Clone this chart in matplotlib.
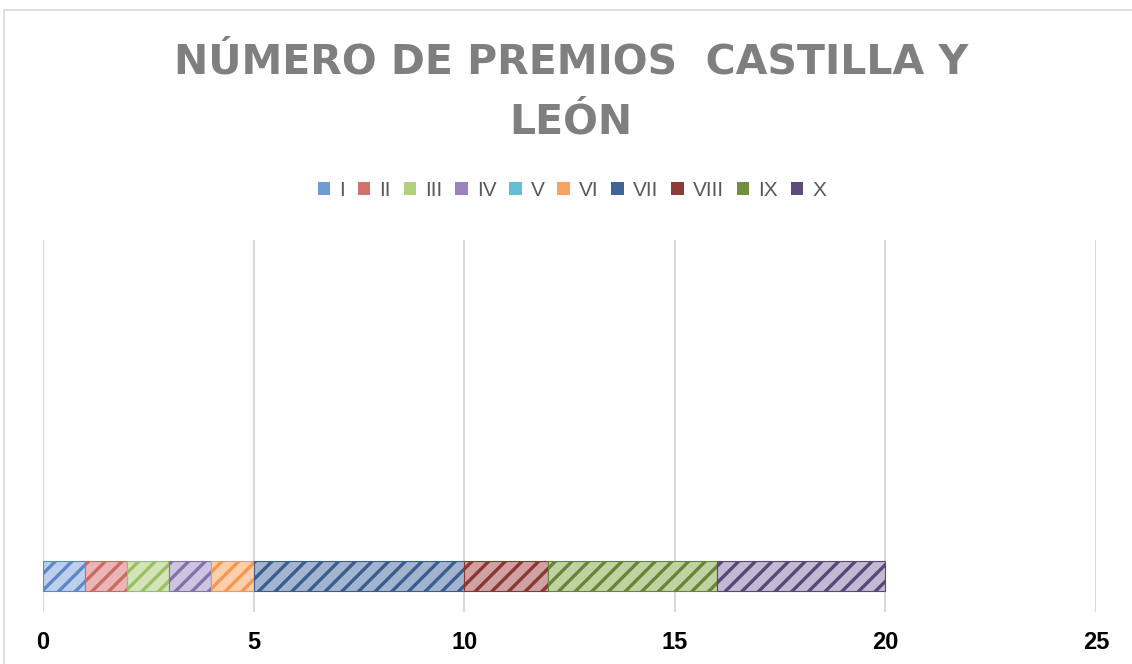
import matplotlib
matplotlib.use("Agg")
import matplotlib.pyplot as plt
from matplotlib.patches import Patch, Rectangle

# ---------------- data ----------------
categoria = ["Castilla y León"]
series = ["I", "II", "III", "IV", "V", "VI", "VII", "VIII", "IX", "X"]
premios = [1, 1, 1, 1, 0, 1, 5, 2, 4, 4]
xticks = [0, 5, 10, 15, 20, 25]
titulo = "NÚMERO DE PREMIOS  CASTILLA Y\nLEÓN"

# ---------------- style ----------------
face_colors = ["#bdd0eb", "#eab6b5", "#d3e4b8", "#cfc4e0", "#bce1ec", "#fbcfac",
               "#a3b5ce", "#cea2a1", "#c1d2a2", "#c2b9d3"]
hatch_colors = ["#5b88c8", "#c96a67", "#9bbf63", "#8771ad", "#4cb0ca", "#f49851",
                "#3a5d8c", "#883735", "#678539", "#594777"]
legend_colors = ["#6f9bd6", "#d36f6c", "#b1cf7c", "#9a82c0", "#63bfd6", "#f8a262",
                 "#3f6596", "#8d3b39", "#708f40", "#5e4b7b"]

W, H = 1132, 664
DPI = 100
plt.rcParams["hatch.linewidth"] = 2.4
plt.rcParams["font.family"] = ["Liberation Sans", "DejaVu Sans"]

fig = plt.figure(figsize=(W / DPI, H / DPI), dpi=DPI)
fig.patch.set_facecolor("white")

# outer light border (chart area)
fig.add_artist(Rectangle((4 / W, -0.05), 1.2, 1 - 10 / H + 0.05,
                         transform=fig.transFigure, fill=False,
                         edgecolor="#d9d9d9", linewidth=1.2))

ax = fig.add_axes([43 / W, 1 - 612 / H, (1096 - 43) / W, (612 - 240) / H])

left = 0
for s, v, fc, hc in zip(series, premios, face_colors, hatch_colors):
    ax.barh(categoria, [v], left=left, height=1.0, color=fc, edgecolor=hc,
            hatch="//", linewidth=0.8, label=s, zorder=3)
    left += v

ax.set_xlim(0, 25)
ax.set_ylim(-1.2, 11.2)
ax.set_xticks(xticks)
ax.set_xticklabels([str(t) for t in xticks], fontsize=17, fontweight="bold",
                   color="black")
ax.tick_params(axis="x", length=0, pad=14)
ax.set_yticks([])
for sp in ax.spines.values():
    sp.set_visible(False)
ax.grid(axis="x", color="#d9d9d9", linewidth=1.5, zorder=0)
ax.set_axisbelow(True)

# legend
handles = [Patch(facecolor=c, edgecolor=c, linewidth=0) for c in legend_colors]
fig.legend(handles, series, loc="center", bbox_to_anchor=(572 / W, 1 - 190 / H),
           ncol=10, frameon=False, fontsize=15, labelcolor="#595959",
           handlelength=0.6, handleheight=0.6, handletextpad=0.45,
           columnspacing=0.6, borderpad=0)

# title
fig.text(571 / W, 1 - 43 / H, titulo, ha="center", va="top", multialignment="center",
         fontsize=29.5, fontweight="bold", color="#7f7f7f",
         family=["DejaVu Sans"], linespacing=1.63)

fig.savefig("out.png", dpi=DPI)
